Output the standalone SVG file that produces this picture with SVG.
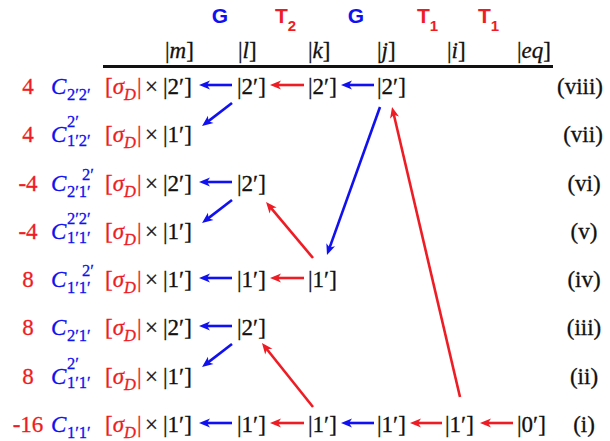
<svg xmlns="http://www.w3.org/2000/svg" width="610" height="441" viewBox="0 0 610 441">
<style>
text{font-family:"Liberation Serif","Times New Roman",serif;font-size:23px;fill:#111;stroke:#111;stroke-width:0.3}
.hd{font-family:"Liberation Sans",Arial,sans-serif;font-weight:bold;font-size:21px;stroke:none}
.hs{font-size:15px}
.r{fill:#ee1c24;stroke:#ee1c24}
.b{fill:#1010f0;stroke:#1010f0}
.hd.r,.hd.b{stroke:none}
.num{fill:#ee1c24;stroke:#ee1c24;text-anchor:middle}
.C{fill:#1010f0;stroke:#1010f0;font-style:italic}
.ix{fill:#1010f0;stroke:#1010f0;font-size:16.5px}
.it{font-style:italic}
.D{fill:#ee1c24;stroke:#ee1c24;font-style:italic;font-size:16.5px}
.rn{text-anchor:middle}
.ab{stroke:#1010f0;stroke-width:2.6;fill:none;marker-end:url(#mb)}
.ar{stroke:#ee1c24;stroke-width:2.6;fill:none;marker-end:url(#mr)}
</style>
<defs>
<marker id="mb" markerUnits="userSpaceOnUse" orient="auto" refX="0" refY="0" markerWidth="20" markerHeight="20" overflow="visible"><path d="M6,0 L-5,-4.6 L-2,0 L-5,4.6 Z" fill="#1010f0"/></marker>
<marker id="mr" markerUnits="userSpaceOnUse" orient="auto" refX="0" refY="0" markerWidth="20" markerHeight="20" overflow="visible"><path d="M6,0 L-5,-4.6 L-2,0 L-5,4.6 Z" fill="#ee1c24"/></marker>
</defs>

<g id="header">
<text class="hd b" x="220" y="23" text-anchor="middle">G</text>
<text class="hd r" x="275" y="23">T<tspan class="hs" dy="8">2</tspan></text>
<text class="hd b" x="356" y="23" text-anchor="middle">G</text>
<text class="hd r" x="417" y="23">T<tspan class="hs" dy="8">1</tspan></text>
<text class="hd r" x="478" y="23">T<tspan class="hs" dy="8">1</tspan></text>
<text x="165" y="58">|<tspan class="it">m</tspan>]</text>
<text x="238" y="58">|<tspan class="it">l</tspan>]</text>
<text x="308" y="58">|<tspan class="it">k</tspan>]</text>
<text x="377" y="58">|<tspan class="it">j</tspan>]</text>
<text x="447" y="58">|<tspan class="it">i</tspan>]</text>
<text x="517" y="58">|<tspan class="it">eq</tspan>]</text>
<line x1="103" y1="66.5" x2="553" y2="66.5" stroke="#111" stroke-width="3"/>
</g>

<g id="row-viii">
<text class="num" x="28" y="94">4</text>
<text class="C" x="51" y="94">C</text><text class="ix" x="67" y="100">2′2′</text>
<text class="r" x="105" y="94">[<tspan class="it">σ</tspan></text><text class="D" x="124" y="100">D</text><text class="r" x="137" y="94">|</text>
<text x="145" y="94">×</text>
<text x="163" y="94">|2′]</text>
<text x="237" y="94">|2′]</text>
<text x="308" y="94">|2′]</text>
<text x="377" y="94">|2′]</text>
<text class="rn" x="580" y="94">(viii)</text>
</g>

<g id="row-vii">
<text class="num" x="28" y="142">4</text>
<text class="C" x="51" y="142">C</text><text class="ix" x="67" y="127">2′</text><text class="ix" x="67" y="146">1′2′</text>
<text class="r" x="105" y="142">[<tspan class="it">σ</tspan></text><text class="D" x="124" y="148">D</text><text class="r" x="137" y="142">|</text>
<text x="145" y="142">×</text>
<text x="163" y="142">|1′]</text>
<text class="rn" x="583" y="142">(vii)</text>
</g>

<g id="row-vi">
<text class="num" x="28" y="191">-4</text>
<text class="C" x="51" y="191">C</text><text class="ix" x="82" y="180">2′</text><text class="ix" x="67" y="197">2′1′</text>
<text class="r" x="105" y="191">[<tspan class="it">σ</tspan></text><text class="D" x="124" y="197">D</text><text class="r" x="137" y="191">|</text>
<text x="145" y="191">×</text>
<text x="163" y="191">|2′]</text>
<text x="237" y="191">|2′]</text>
<text class="rn" x="584" y="191">(vi)</text>
</g>

<g id="row-v">
<text class="num" x="28" y="239">-4</text>
<text class="C" x="51" y="239">C</text><text class="ix" x="67" y="224">2′2′</text><text class="ix" x="67" y="243">1′1′</text>
<text class="r" x="105" y="239">[<tspan class="it">σ</tspan></text><text class="D" x="124" y="245">D</text><text class="r" x="137" y="239">|</text>
<text x="145" y="239">×</text>
<text x="163" y="239">|1′]</text>
<text class="rn" x="584" y="239">(v)</text>
</g>

<g id="row-iv">
<text class="num" x="28" y="287">8</text>
<text class="C" x="51" y="287">C</text><text class="ix" x="82" y="276">2′</text><text class="ix" x="67" y="293">1′1′</text>
<text class="r" x="105" y="287">[<tspan class="it">σ</tspan></text><text class="D" x="124" y="293">D</text><text class="r" x="137" y="287">|</text>
<text x="145" y="287">×</text>
<text x="163" y="287">|1′]</text>
<text x="237" y="287">|1′]</text>
<text x="308" y="287">|1′]</text>
<text class="rn" x="584" y="287">(iv)</text>
</g>

<g id="row-iii">
<text class="num" x="28" y="335">8</text>
<text class="C" x="51" y="335">C</text><text class="ix" x="67" y="341">2′1′</text>
<text class="r" x="105" y="335">[<tspan class="it">σ</tspan></text><text class="D" x="124" y="341">D</text><text class="r" x="137" y="335">|</text>
<text x="145" y="335">×</text>
<text x="163" y="335">|2′]</text>
<text x="237" y="335">|2′]</text>
<text class="rn" x="584" y="335">(iii)</text>
</g>

<g id="row-ii">
<text class="num" x="28" y="384">8</text>
<text class="C" x="51" y="384">C</text><text class="ix" x="67" y="369">2′</text><text class="ix" x="67" y="388">1′1′</text>
<text class="r" x="105" y="384">[<tspan class="it">σ</tspan></text><text class="D" x="124" y="390">D</text><text class="r" x="137" y="384">|</text>
<text x="145" y="384">×</text>
<text x="163" y="384">|1′]</text>
<text class="rn" x="584" y="384">(ii)</text>
</g>

<g id="row-i">
<text class="num" x="28" y="432">-16</text>
<text class="C" x="51" y="432">C</text><text class="ix" x="67" y="438">1′1′</text>
<text class="r" x="105" y="432">[<tspan class="it">σ</tspan></text><text class="D" x="124" y="438">D</text><text class="r" x="137" y="432">|</text>
<text x="145" y="432">×</text>
<text x="163" y="432">|1′]</text>
<text x="237" y="432">|1′]</text>
<text x="308" y="432">|1′]</text>
<text x="377" y="432">|1′]</text>
<text x="445" y="432">|1′]</text>
<text x="517" y="432">|0′]</text>
<text class="rn" x="584" y="432">(i)</text>
</g>

<g id="connectors">
<line class="ab" x1="232" y1="85" x2="205" y2="85"/>
<line class="ar" x1="304" y1="85" x2="276" y2="85"/>
<line class="ab" x1="374" y1="85" x2="347" y2="85"/>
<line class="ab" x1="232" y1="182" x2="205" y2="182"/>
<line class="ab" x1="232" y1="278" x2="205" y2="278"/>
<line class="ar" x1="304" y1="278" x2="276" y2="278"/>
<line class="ab" x1="232" y1="326" x2="205" y2="326"/>
<line class="ab" x1="232" y1="423" x2="205" y2="423"/>
<line class="ar" x1="304" y1="423" x2="276" y2="423"/>
<line class="ab" x1="374" y1="423" x2="347" y2="423"/>
<line class="ar" x1="442" y1="423" x2="416" y2="423"/>
<line class="ar" x1="513" y1="423" x2="486" y2="423"/>
<line class="ab" x1="232" y1="103" x2="206.8" y2="122.4"/>
<line class="ab" x1="232" y1="200" x2="206.8" y2="219.4"/>
<line class="ab" x1="232" y1="344" x2="206.8" y2="363.4"/>
<line class="ab" x1="380" y1="107" x2="329" y2="249.4"/>
<line class="ar" x1="460" y1="397" x2="393.4" y2="112.8"/>
<line class="ar" x1="313" y1="258" x2="269.9" y2="206.6"/>
<line class="ar" x1="313" y1="407" x2="265.7" y2="347.7"/>
</g>
</svg>
